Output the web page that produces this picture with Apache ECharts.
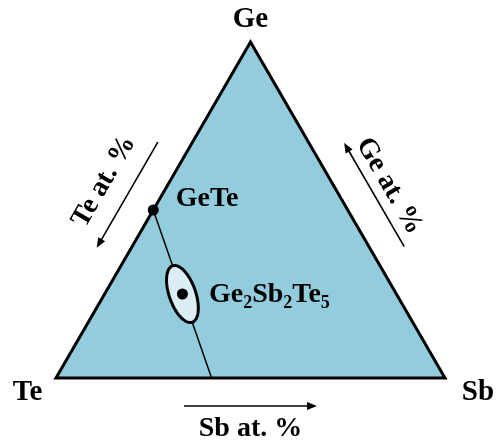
<!DOCTYPE html>
<html>
<head>
<meta charset="utf-8">
<script src="https://cdn.jsdelivr.net/npm/echarts@6/dist/echarts.min.js"></script>
<style>
  html, body { margin: 0; padding: 0; background: #fff; }
  #chart { width: 496px; height: 443px; }
</style>
</head>
<body>
<div id="chart"></div>
<script>
// Ge–Sb–Te ternary composition diagram (all values in at.%)
const vertexNames = ['Ge', 'Sb', 'Te'];
const vertexGe = [100, 0, 0];
const vertexSb = [0, 100, 0];

// GeTe – Sb2Te3 pseudo-binary tie line
const tieGe = [50, 0];
const tieSb = [0, 40];

// Marked phases
const phaseNames = ['GeTe', 'Ge2Sb2Te5'];
const phaseGe = [50, 25];
const phaseSb = [0, 20];

// Composition region around Ge2Sb2Te5 (semi-axes in at.%, major axis along the tie line)
const regionGe = 25;
const regionSb = 20;
const regionSemiMajor = 7.7;
const regionSemiMinor = 3.4;

// Side titles: left, right, bottom edges
const edgeTitles = ['Te at. %', 'Ge at. %', 'Sb at. %'];

const H = Math.sqrt(3) / 2;
// Ternary composition -> planar coordinates (Te at origin, Sb at (100,0), Ge on top)
function toXY(ge, sb) { return [sb + ge / 2, ge * H]; }

const triXY = vertexNames.map((_, i) => toXY(vertexGe[i], vertexSb[i]));
const tieXY = tieGe.map((g, i) => toXY(g, tieSb[i]));
const phaseXY = phaseGe.map((g, i) => toXY(g, phaseSb[i]));
const regionXY = toXY(regionGe, regionSb);

const FONT = '"Liberation Serif", "Times New Roman", serif';

const chart = echarts.init(document.getElementById('chart'), null, { renderer: 'canvas' });

chart.setOption({
  animation: false,
  backgroundColor: '#ffffff',
  grid: { left: 56, right: 51, top: 42, bottom: 65 },
  xAxis: { type: 'value', min: 0, max: 100, show: false },
  yAxis: { type: 'value', min: 0, max: 100 * H, show: false },
  series: [
    {
      // triangle body
      type: 'custom',
      z: 1,
      data: triXY,
      renderItem: function (params, api) {
        if (params.dataIndex !== 0) return null;
        const pts = triXY.map(p => api.coord(p));
        return {
          type: 'polygon',
          shape: { points: pts },
          style: { fill: '#93cddd', stroke: '#000', lineWidth: 3, lineJoin: 'miter' }
        };
      }
    },
    {
      // tie line
      type: 'line',
      z: 2,
      data: tieXY,
      symbol: 'none',
      lineStyle: { color: '#000', width: 1.5 }
    },
    {
      // composition region
      type: 'custom',
      z: 3,
      data: [regionXY],
      renderItem: function (params, api) {
        const dx = tieXY[1][0] - tieXY[0][0];
        const dy = tieXY[1][1] - tieXY[0][1];
        const len = Math.hypot(dx, dy);
        const ux = dx / len, uy = dy / len;
        const vx = -uy, vy = ux;
        const cx = api.value(0), cy = api.value(1);
        const pts = [];
        for (let k = 0; k < 96; k++) {
          const t = k / 96 * Math.PI * 2;
          const a = regionSemiMajor * Math.cos(t);
          const b = regionSemiMinor * Math.sin(t);
          pts.push(api.coord([cx + a * ux + b * vx, cy + a * uy + b * vy]));
        }
        return {
          type: 'polygon',
          shape: { points: pts },
          style: { fill: '#dbeef4', stroke: '#000', lineWidth: 3 }
        };
      }
    },
    {
      // phase markers
      type: 'scatter',
      z: 4,
      data: phaseXY,
      symbol: 'circle',
      symbolSize: 11,
      itemStyle: { color: '#000', opacity: 1 }
    }
  ]
});

// Annotations positioned from the grid's own coordinate conversion
const px = p => chart.convertToPixel({ gridIndex: 0 }, p);
const pGe = px(triXY[0]), pSb = px(triXY[1]), pTe = px(triXY[2]);
const pPhase = phaseXY.map(px);

const graphics = [];
function label(text, x, y, size, align) {
  graphics.push({
    type: 'text', x: x, y: y, z: 10,
    style: { text: text, font: 'bold ' + size + 'px ' + FONT, fill: '#000',
             textAlign: align || 'center', textVerticalAlign: 'middle' }
  });
}

// vertex names
label(vertexNames[0], pGe[0], pGe[1] - 22, 29);
label(vertexNames[1], pSb[0] + 33, pSb[1] + 15, 29);
label(vertexNames[2], pTe[0] - 28.5, pTe[1] + 15, 29);

// phase names
label(phaseNames[0], pPhase[0][0] + 22.5, pPhase[0][1] - 11.5, 28, 'left');

// chemical formula with subscripts: split into alternating symbol / count pieces
const measureCtx = document.createElement('canvas').getContext('2d');
(function formula(name, x0, y0) {
  const parts = name.match(/[A-Za-z]+|\d+/g);
  let x = x0;
  parts.forEach(part => {
    const isSub = /^\d+$/.test(part);
    const font = 'bold ' + (isSub ? 18 : 28) + 'px ' + FONT;
    measureCtx.font = font;
    graphics.push({
      type: 'text', x: x, y: isSub ? y0 + 9 : y0, z: 10,
      style: { text: part, font: font, fill: '#000', textAlign: 'left', textVerticalAlign: 'middle' }
    });
    x += measureCtx.measureText(part).width;
  });
})(phaseNames[1], pPhase[1][0] + 26.5, pPhase[1][1] + 0.5);

// edge arrows and titles
function edgeAnnot(a, b, outward, arrowOff, arrowLen, textOff, title, towardA) {
  const mx = (a[0] + b[0]) / 2, my = (a[1] + b[1]) / 2;
  let ex = b[0] - a[0], ey = b[1] - a[1];
  const L = Math.hypot(ex, ey); ex /= L; ey /= L;
  const nx = outward[0], ny = outward[1];
  const cx = mx + nx * arrowOff, cy = my + ny * arrowOff;
  const dir = towardA ? -1 : 1;
  const tip = [cx + dir * ex * arrowLen / 2, cy + dir * ey * arrowLen / 2];
  const tail = [cx - dir * ex * arrowLen / 2, cy - dir * ey * arrowLen / 2];
  const hx = dir * ex, hy = dir * ey;
  const headLen = 10, headW = 4;
  const base = [tip[0] - hx * headLen, tip[1] - hy * headLen];
  graphics.push({
    type: 'line', z: 10,
    shape: { x1: tail[0], y1: tail[1], x2: base[0] + hx * 2, y2: base[1] + hy * 2 },
    style: { stroke: '#000', lineWidth: 1.6 }
  });
  graphics.push({
    type: 'polygon', z: 10,
    shape: { points: [tip, [base[0] - hy * headW, base[1] + hx * headW], [base[0] + hy * headW, base[1] - hx * headW]] },
    style: { fill: '#000' }
  });
  // text reads along the edge, left to right
  let rx = ex, ry = ey;
  if (rx < 0) { rx = -rx; ry = -ry; }
  graphics.push({
    type: 'text', z: 10,
    x: mx + nx * textOff, y: my + ny * textOff,
    rotation: -Math.atan2(ry, rx),
    style: { text: title, font: 'bold 28px ' + FONT, fill: '#000',
             textAlign: 'center', textVerticalAlign: 'middle' }
  });
}

// left edge (Te -> Ge), arrow toward Te
edgeAnnot(pTe, pGe, [-H, -0.5], 30, 122, 57, edgeTitles[0], true);
// right edge (Sb -> Ge), arrow toward Ge
edgeAnnot(pSb, pGe, [H, -0.5], 30.5, 120, 48, edgeTitles[1], false);
// bottom edge (Te -> Sb), arrow toward Sb
edgeAnnot(pTe, pSb, [0, 1], 28, 133, 50.5, edgeTitles[2], false);

chart.setOption({ graphic: graphics });
</script>
</body>
</html>
